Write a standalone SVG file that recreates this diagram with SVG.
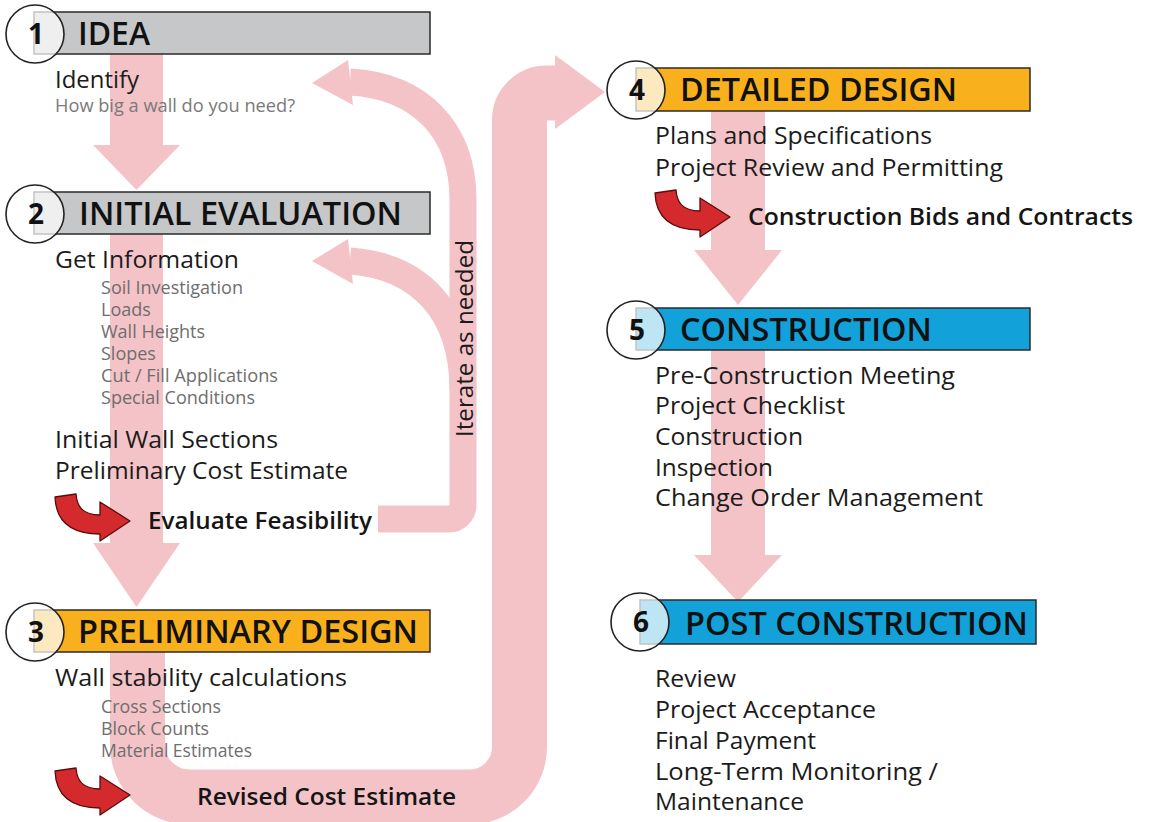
<svg xmlns="http://www.w3.org/2000/svg" width="1149" height="822" viewBox="0 0 1149 822">
  <style>
    text { font-family: 'Open Sans', 'Segoe UI', 'Liberation Sans', sans-serif; }
    .main { font-size: 24.5px; fill: #1b1b1b; }
    .sub { font-size: 18px; fill: #6e6e6e; }
    .title { font-size: 32px; font-weight: 600; fill: #111; }
    .num { font-size: 28px; font-weight: 700; fill: #111; text-anchor: middle; }
    .act { font-size: 24px; font-weight: 600; fill: #151515; }
    .band { fill: none; stroke: #f4c3c7; stroke-linecap: butt; stroke-linejoin: round; }
    .head { fill: #f4c3c7; }
    .bar { stroke: #2b2b2b; stroke-width: 1.5; }
    .gray { fill: #c6c7c9; }
    .orange { fill: #f8b01d; }
    .blue { fill: #12a1d8; }
    .ring { fill: #ffffff; fill-opacity: 0.72; stroke: #222; stroke-width: 1.6; }
    .curl { fill: #d42a2e; stroke: #5a0c0c; stroke-width: 1.3; stroke-linejoin: round; }
  </style>
  <defs>
    <!-- small red "hook" arrow: drops down, bends right, points right -->
    <path id="curl" d="M 0 3 L 21 0 C 22 13 28 21 45 21 L 45 8 L 75 27 L 45 47 L 45 40 C 16 40 1 28 0 3 Z"/>
  </defs>

  <rect width="1149" height="822" fill="#ffffff"/>

  <!-- flow connectors -->
  <g id="connectors">
    <!-- 1 -> 2 -->
    <rect class="head" x="110" y="50" width="53" height="98"/>
    <polygon class="head" points="93,145 180,145 136.5,190"/>
    <!-- 2 -> 3 -->
    <rect class="head" x="110" y="230" width="53" height="316"/>
    <polygon class="head" points="93,543 180,543 136.5,607"/>
    <!-- iterate loop back to 1 and 2 -->
    <path class="band" stroke-width="27" d="M 378 519 H 449 A 14 14 0 0 0 463 505 V 200 C 463 130 420 86 350 82"/>
    <path class="band" stroke-width="27" d="M 463 390 C 463 312 420 266 350 261"/>
    <polygon class="head" points="312,83 348,60 353,105"/>
    <polygon class="head" points="312,261 348,239 353,284"/>
    <!-- 3 -> 4 big U -->
    <path class="band" stroke-width="55" d="M 137.5 648 V 745 A 52 52 0 0 0 189.5 797 H 469.5 A 50 50 0 0 0 519.5 747 V 120 A 27 27 0 0 1 546.5 93 H 557"/>
    <polygon class="head" points="555,55 605,92 555,129"/>
    <!-- 4 -> 5 -->
    <rect class="head" x="711" y="106" width="54" height="146"/>
    <polygon class="head" points="694,250 782,250 738,305"/>
    <!-- 5 -> 6 -->
    <rect class="head" x="711" y="346" width="54" height="211"/>
    <polygon class="head" points="694,555 782,555 738,602"/>
    <text class="main" x="473" y="437" transform="rotate(-90 473 437)" font-size="24" textLength="197" lengthAdjust="spacingAndGlyphs">Iterate as needed</text>
  </g>

  <!-- stage 1 -->
  <g id="idea">
    <rect class="bar gray" x="34" y="12" width="396" height="42"/>
    <circle class="ring" cx="35" cy="34" r="29"/>
    <text class="num" x="36" y="44">1</text>
    <text class="title" x="78" y="45" textLength="72" lengthAdjust="spacingAndGlyphs">IDEA</text>
    <text class="main" x="55" y="88" textLength="84" lengthAdjust="spacingAndGlyphs">Identify</text>
    <text class="sub" x="55" y="112" textLength="240" lengthAdjust="spacingAndGlyphs" style="fill:#7a7a7a">How big a wall do you need?</text>
  </g>

  <!-- stage 2 -->
  <g id="initial-evaluation">
    <rect class="bar gray" x="34" y="192" width="396" height="42"/>
    <circle class="ring" cx="35" cy="214" r="29"/>
    <text class="num" x="36" y="224">2</text>
    <text class="title" x="79" y="225" textLength="323" lengthAdjust="spacingAndGlyphs">INITIAL EVALUATION</text>
    <text class="main" x="55" y="268" textLength="184" lengthAdjust="spacingAndGlyphs">Get Information</text>
    <text class="sub" x="101" y="294" textLength="142" lengthAdjust="spacingAndGlyphs">Soil Investigation</text>
    <text class="sub" x="101" y="316">Loads</text>
    <text class="sub" x="101" y="338">Wall Heights</text>
    <text class="sub" x="101" y="360">Slopes</text>
    <text class="sub" x="101" y="382" textLength="177" lengthAdjust="spacingAndGlyphs">Cut / Fill Applications</text>
    <text class="sub" x="101" y="404" textLength="154" lengthAdjust="spacingAndGlyphs">Special Conditions</text>
    <text class="main" x="55" y="448" textLength="223" lengthAdjust="spacingAndGlyphs">Initial Wall Sections</text>
    <text class="main" x="55" y="479" textLength="293" lengthAdjust="spacingAndGlyphs">Preliminary Cost Estimate</text>
    <use href="#curl" class="curl" x="55" y="494"/>
    <text class="act" x="148" y="529" textLength="224" lengthAdjust="spacingAndGlyphs">Evaluate Feasibility</text>
  </g>

  <!-- stage 3 -->
  <g id="preliminary-design">
    <rect class="bar orange" x="34" y="610" width="396" height="42"/>
    <circle class="ring" cx="35" cy="632" r="29"/>
    <text class="num" x="36" y="642">3</text>
    <text class="title" x="78" y="643" textLength="340" lengthAdjust="spacingAndGlyphs">PRELIMINARY DESIGN</text>
    <text class="main" x="55" y="686" textLength="292" lengthAdjust="spacingAndGlyphs">Wall stability calculations</text>
    <text class="sub" x="101" y="713" textLength="120" lengthAdjust="spacingAndGlyphs">Cross Sections</text>
    <text class="sub" x="101" y="735" textLength="108" lengthAdjust="spacingAndGlyphs">Block Counts</text>
    <text class="sub" x="101" y="757" textLength="151" lengthAdjust="spacingAndGlyphs">Material Estimates</text>
    <use href="#curl" class="curl" x="55" y="768"/>
    <text class="act" x="197" y="805" textLength="259" lengthAdjust="spacingAndGlyphs">Revised Cost Estimate</text>
  </g>

  <!-- stage 4 -->
  <g id="detailed-design">
    <rect class="bar orange" x="636" y="68" width="394" height="43"/>
    <circle class="ring" cx="636" cy="90" r="29"/>
    <text class="num" x="637" y="100">4</text>
    <text class="title" x="680" y="101" textLength="277" lengthAdjust="spacingAndGlyphs">DETAILED DESIGN</text>
    <text class="main" x="655" y="144" textLength="277" lengthAdjust="spacingAndGlyphs">Plans and Specifications</text>
    <text class="main" x="655" y="176" textLength="348" lengthAdjust="spacingAndGlyphs">Project Review and Permitting</text>
    <use href="#curl" class="curl" x="655" y="190"/>
    <text class="act" x="748" y="225" textLength="385" lengthAdjust="spacingAndGlyphs">Construction Bids and Contracts</text>
  </g>

  <!-- stage 5 -->
  <g id="construction">
    <rect class="bar blue" x="636" y="308" width="394" height="42"/>
    <circle class="ring" cx="636" cy="330" r="29"/>
    <text class="num" x="637" y="340">5</text>
    <text class="title" x="680" y="341" textLength="252" lengthAdjust="spacingAndGlyphs">CONSTRUCTION</text>
    <text class="main" x="655" y="384" textLength="300" lengthAdjust="spacingAndGlyphs">Pre-Construction Meeting</text>
    <text class="main" x="655" y="414" textLength="190" lengthAdjust="spacingAndGlyphs">Project Checklist</text>
    <text class="main" x="655" y="445" textLength="148" lengthAdjust="spacingAndGlyphs">Construction</text>
    <text class="main" x="655" y="476" textLength="118" lengthAdjust="spacingAndGlyphs">Inspection</text>
    <text class="main" x="655" y="506" textLength="328" lengthAdjust="spacingAndGlyphs">Change Order Management</text>
  </g>

  <!-- stage 6 -->
  <g id="post-construction">
    <rect class="bar blue" x="640" y="600" width="396" height="44"/>
    <circle class="ring" cx="640" cy="622" r="29"/>
    <text class="num" x="641" y="632">6</text>
    <text class="title" x="685" y="635" textLength="343" lengthAdjust="spacingAndGlyphs">POST CONSTRUCTION</text>
    <text class="main" x="655" y="687" textLength="81" lengthAdjust="spacingAndGlyphs">Review</text>
    <text class="main" x="655" y="718" textLength="221" lengthAdjust="spacingAndGlyphs">Project Acceptance</text>
    <text class="main" x="655" y="749" textLength="161" lengthAdjust="spacingAndGlyphs">Final Payment</text>
    <text class="main" x="655" y="780" textLength="283" lengthAdjust="spacingAndGlyphs">Long-Term Monitoring /</text>
    <text class="main" x="655" y="810" textLength="149" lengthAdjust="spacingAndGlyphs">Maintenance</text>
  </g>
</svg>
